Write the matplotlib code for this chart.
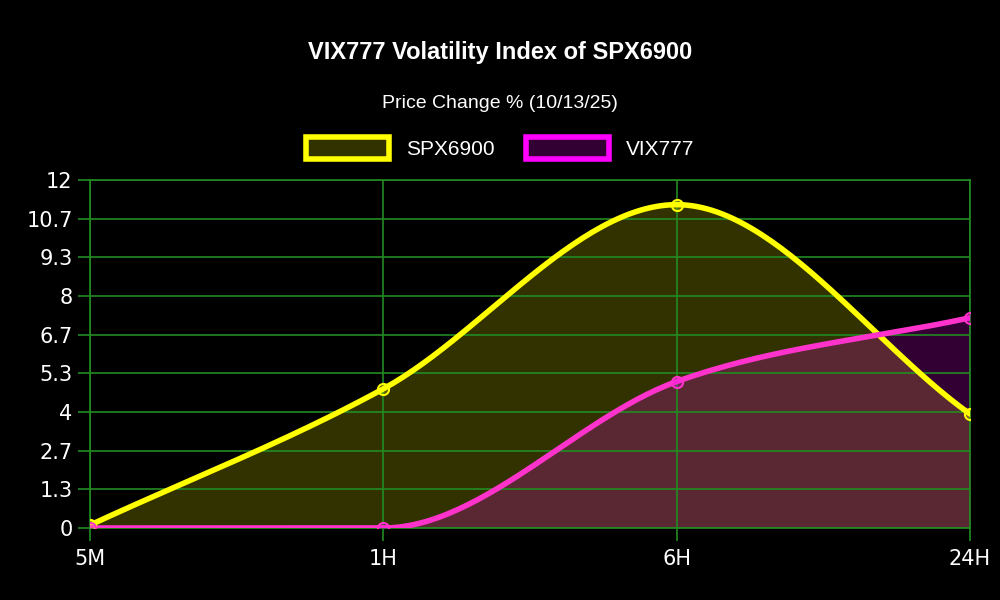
import numpy as np
import matplotlib
matplotlib.use("Agg")
import matplotlib.pyplot as plt
from matplotlib.patches import Patch

labels = ["5M", "1H", "6H", "24H"]
spx = [0.1, 4.8, 11.15, 3.93]
vix = [0.0, 0.0, 5.05, 7.25]
yticks = [0, 4/3, 8/3, 4, 16/3, 20/3, 8, 28/3, 32/3, 12]
yticklabels = ["0", "1.3", "2.7", "4", "5.3", "6.7", "8", "9.3", "10.7", "12"]


def monotone(xs, ys, n=60):
    # Fritsch-Carlson monotone cubic, like chart.js cubicInterpolationMode
    xs = np.asarray(xs, float); ys = np.asarray(ys, float)
    h = np.diff(xs); d = np.diff(ys) / h
    m = np.zeros_like(ys)
    m[0], m[-1] = d[0], d[-1]
    for i in range(1, len(ys) - 1):
        m[i] = 0 if d[i-1] * d[i] <= 0 else (d[i-1] + d[i]) / 2
    for i in range(len(d)):
        if d[i] == 0:
            m[i] = m[i+1] = 0
        else:
            a, b = m[i] / d[i], m[i+1] / d[i]
            s = a*a + b*b
            if s > 9:
                t = 3 / np.sqrt(s)
                m[i], m[i+1] = t*a*d[i], t*b*d[i]
    px, py = [], []
    for i in range(len(d)):
        t = np.linspace(0, 1, n)
        h00 = 2*t**3 - 3*t**2 + 1; h10 = t**3 - 2*t**2 + t
        h01 = -2*t**3 + 3*t**2; h11 = t**3 - t**2
        px.extend(xs[i] + t*h[i])
        py.extend(h00*ys[i] + h10*h[i]*m[i] + h01*ys[i+1] + h11*h[i]*m[i+1])
    return np.array(px), np.array(py)


x = np.arange(len(labels))
fig = plt.figure(figsize=(10, 6), dpi=100, facecolor="black")
ax = fig.add_axes([0.09, 0.12, 0.88, 0.58])
ax.set_facecolor("black")

sx, sy = monotone(x, spx)
vx, vy = monotone(x, vix)
ax.fill_between(sx, sy, 0, color=(1, 1, 0, 0.2), lw=0)
ax.fill_between(vx, vy, 0, color=(1, 0, 1, 0.2), lw=0)
ax.plot(sx, sy, color="#ffff00", lw=4, zorder=3, solid_capstyle="round")
ax.plot(vx, vy, color="#ff33cc", lw=4, zorder=3, solid_capstyle="round")
ax.plot(x, spx, "o", ms=8, mfc=(1, 1, 0, 0.2), mec="#ffff00", mew=1.5, zorder=4)
ax.plot(x, vix, "o", ms=8, mfc=(1, 0, 1, 0.2), mec="#ff33cc", mew=1.5, zorder=4)

ax.set_xlim(0, 3)
ax.set_ylim(0, 12)
ax.set_xticks(x, labels)
ax.set_yticks(yticks, yticklabels)
ax.grid(True, color="#228b22", lw=1.2)
ax.tick_params(axis="y", colors="#228b22", length=9, width=1.2, labelcolor="white", labelsize=15)
ax.tick_params(axis="x", colors="#228b22", length=9, width=1.2, labelcolor="white", labelsize=15, pad=6)
for s in ax.spines.values():
    s.set_color("#228b22")
    s.set_linewidth(1.2)

fig.text(0.5, 0.913, "VIX777 Volatility Index of SPX6900", color="white",
         ha="center", va="center", fontsize=17, fontweight="bold", family="Liberation Sans")
fig.text(0.5, 0.828, "Price Change % (10/13/25)", color="white",
         ha="center", va="center", fontsize=14, family="Liberation Sans")
handles = [Patch(facecolor=(1, 1, 0, 0.2), edgecolor="#ffff00", lw=4, label="SPX6900"),
           Patch(facecolor=(1, 0, 1, 0.2), edgecolor="#ff00ff", lw=4, label="VIX777")]
leg = fig.legend(handles=handles, loc="center", bbox_to_anchor=(0.5, 0.753), ncol=2,
                 frameon=False, handlelength=4, handleheight=1.2, columnspacing=1.5,
                 prop={"family": "Liberation Sans", "size": 15})
for t in leg.get_texts():
    t.set_color("white")

fig.savefig("out.png", facecolor="black")
